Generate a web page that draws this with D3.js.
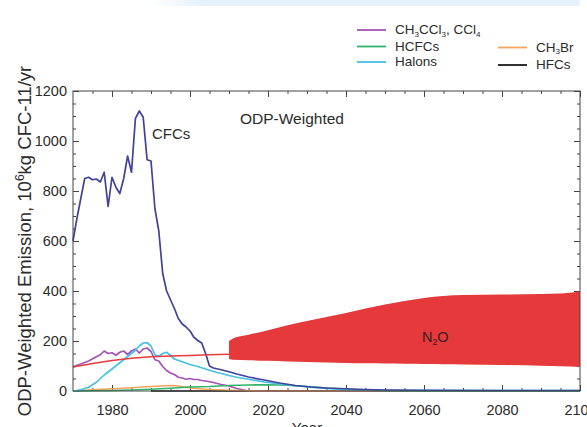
<!DOCTYPE html>
<html>
<head>
<meta charset="utf-8">
<script src="https://cdn.jsdelivr.net/npm/d3@7"></script>
<style>
  html, body { margin: 0; padding: 0; background: #fff; }
  svg { display: block; font-family: "Liberation Sans", Arial, Helvetica, sans-serif; }
</style>
</head>
<body>
<div id="chart"></div>
<script>
'use strict';

// ODP-weighted emissions, 10^6 kg CFC-11 per year  [year, value]
var cfcs = [[1970,600],[1971,690],[1972,770],[1973,850],[1974,855],[1975,845],[1976,848],[1977,836],
  [1978,875],[1979,738],[1980,855],[1981,815],[1982,790],[1983,850],[1984,940],[1985,875],[1986,1090],
  [1987,1120],[1988,1095],[1989,925],[1990,920],[1991,730],[1992,640],[1993,470],[1994,400],[1995,365],
  [1996,330],[1997,290],[1998,268],[1999,256],[2000,240],[2001,215],[2002,202],[2003,192],[2004,150],
  [2005,100],[2006,92],[2008,85],[2010,77],[2012,68],[2015,56],[2019,44],[2023,32],[2027,22],[2031,16],
  [2035,12],[2040,9],[2045,6],[2050,4],[2060,3],[2080,2],[2100,2]];

var ch3ccl3 = [[1970,97],[1972,108],[1974,120],[1976,137],[1977,145],[1978,160],[1979,150],[1980,153],
  [1981,143],[1982,155],[1983,160],[1984,146],[1985,160],[1986,168],[1987,152],[1988,168],[1989,172],
  [1990,158],[1991,125],[1992,120],[1993,98],[1994,82],[1995,72],[1996,66],[1997,55],[1998,52],[1999,47],
  [2000,50],[2001,46],[2002,46],[2003,42],[2004,40],[2006,34],[2008,26],[2010,20],[2012,10],[2015,0],[2100,0]];

var halons = [[1970,0],[1972,5],[1974,15],[1976,35],[1978,64],[1980,88],[1982,113],[1984,138],[1986,163],
  [1987,180],[1988,192],[1989,193],[1990,180],[1991,145],[1992,138],[1993,150],[1994,155],[1995,142],
  [1996,128],[1998,117],[2000,106],[2002,98],[2004,88],[2006,78],[2008,70],[2010,62],[2012,55],[2015,47],
  [2019,36],[2023,28],[2027,21],[2031,15],[2035,10],[2040,5],[2050,3],[2060,2],[2100,2]];

var hcfcs = [[1970,0],[1980,2],[1985,4],[1990,7],[1995,11],[2000,16],[2005,18],[2010,22],[2015,24],
  [2020,25],[2025,23],[2030,18],[2035,12],[2040,7],[2045,3],[2050,1],[2060,0],[2100,0]];

var ch3br = [[1970,0],[1975,5],[1980,9],[1985,13],[1990,18],[1995,22],[1997,20],[2000,12],[2005,6],
  [2010,3],[2015,1],[2020,0],[2100,0]];

var hfcs = [[1990,0],[2100,0]];

var n2oLine = [[1970,96],[1975,110],[1980,122],[1985,131],[1990,137],[1995,140],[2000,142],[2005,145],[2010,147]];

// N2O projection range [year, low, high]
var n2oBand = [[2010,128,200],[2011,125,210],[2015,123,225],[2020,121,243],[2025,118,263],[2030,116,280],
  [2035,114,296],[2040,112,312],[2045,111,330],[2050,110,346],[2055,109,360],[2060,108,372],[2065,107,380],
  [2070,106,384],[2080,104,386],[2090,101,388],[2095,99,390],[2100,96,398]];

var xMajor = [1980, 2000, 2020, 2040, 2060, 2080, 2100];
var yMajor = [0, 200, 400, 600, 800, 1000, 1200];

var myApp = {};

myApp.margins = { top: 91, left: 73, right: 7, bottom: 36 };
myApp.width = 587;
myApp.height = 427;

// text with _x subscripts and ^x superscripts
myApp.richText = function(sel, str, size)
{
    var parts = str.match(/[_^].|[^_^]+/g);
    var shift = 0;
    parts.forEach(function(p) {
        var t = sel.append('tspan');
        var target = 0;
        if (p[0] === '_') { target = size * 0.2; p = p.slice(1); t.attr('font-size', size * 0.6); }
        else if (p[0] === '^') { target = -size * 0.4; p = p.slice(1); t.attr('font-size', size * 0.65); }
        t.attr('dy', target - shift).text(p);
        shift = target;
    });
}

myApp.run = function()
{
    var m = myApp.margins;
    var w = myApp.width - m.left - m.right;
    var h = myApp.height - m.top - m.bottom;

    var svg = d3.select('#chart').append('svg')
        .attr('width', myApp.width)
        .attr('height', myApp.height);

    // faint banner at the very top of the page
    var grad = svg.append('defs').append('linearGradient').attr('id', 'banner');
    grad.append('stop').attr('offset', '0').attr('stop-color', '#e6f2fb').attr('stop-opacity', 0);
    grad.append('stop').attr('offset', '0.12').attr('stop-color', '#e6f2fb').attr('stop-opacity', 1);
    grad.append('stop').attr('offset', '1').attr('stop-color', '#e6f2fb').attr('stop-opacity', 1);
    svg.append('rect')
        .attr('x', 150).attr('y', 0).attr('width', 430).attr('height', 6)
        .attr('fill', 'url(#banner)');

    var g = svg.append('g').attr('transform', 'translate(' + m.left + ',' + m.top + ')');

    var x = d3.scaleLinear().domain([1970, 2100]).range([0, w]);
    var y = d3.scaleLinear().domain([0, 1200]).range([h, 0]);

    var xMinor = d3.range(1975, 2100, 5).filter(function(d) { return xMajor.indexOf(d) < 0; });
    var yMinor = d3.range(50, 1200, 50).filter(function(d) { return yMajor.indexOf(d) < 0; });

    var fontSize = 14.5;

    // bottom axis with labels
    g.append('g').attr('transform', 'translate(0,' + h + ')')
        .call(d3.axisBottom(x).tickValues(xMajor).tickFormat(d3.format('d')).tickSize(-6).tickPadding(14));
    g.append('g').attr('transform', 'translate(0,' + h + ')')
        .call(d3.axisBottom(x).tickValues(xMinor).tickFormat('').tickSize(-3));
    g.append('g').call(d3.axisTop(x).tickValues(xMajor).tickFormat('').tickSize(-6));
    g.append('g').call(d3.axisTop(x).tickValues(xMinor).tickFormat('').tickSize(-3));

    g.append('g')
        .call(d3.axisLeft(y).tickValues(yMajor).tickFormat(d3.format('d')).tickSize(-6).tickPadding(6));
    g.append('g').call(d3.axisLeft(y).tickValues(yMinor).tickFormat('').tickSize(-3));
    g.append('g').attr('transform', 'translate(' + w + ',0)')
        .call(d3.axisRight(y).tickValues(yMajor).tickFormat('').tickSize(-6));
    g.append('g').attr('transform', 'translate(' + w + ',0)')
        .call(d3.axisRight(y).tickValues(yMinor).tickFormat('').tickSize(-3));

    g.selectAll('.domain').remove();
    g.selectAll('.tick line').attr('stroke', '#444');
    g.selectAll('.tick text').attr('fill', '#2b2b2b')
        .attr('font-size', fontSize)
        .attr('font-family', '"Liberation Sans", Arial, sans-serif');

    // N2O band
    g.append('path')
        .datum(n2oBand)
        .attr('fill', '#e5393b')
        .attr('d', d3.area()
            .x(function(d) { return x(d[0]); })
            .y0(function(d) { return y(d[1]); })
            .y1(function(d) { return y(d[2]); })
            .curve(d3.curveMonotoneX));

    var line = d3.line()
        .x(function(d) { return x(d[0]); })
        .y(function(d) { return y(d[1]); });

    var series = [
        { data: hfcs, color: '#1a1a1a' },
        { data: ch3ccl3, color: '#a452b6' },
        { data: ch3br, color: '#f3a35c' },
        { data: hcfcs, color: '#2fb36c' },
        { data: halons, color: '#43c2e4' },
        { data: cfcs, color: '#40429b' },
        { data: n2oLine, color: '#e63c3e' }
    ];

    series.forEach(function(s) {
        g.append('path')
            .datum(s.data)
            .attr('fill', 'none')
            .attr('stroke', s.color)
            .attr('stroke-width', 1.7)
            .attr('stroke-linejoin', 'round')
            .attr('d', line);
    });

    // frame
    g.append('rect')
        .attr('width', w).attr('height', h)
        .attr('fill', 'none')
        .attr('stroke', '#444')
        .attr('stroke-width', 1);

    // in-plot labels
    g.append('text').attr('x', 79).attr('y', 48).attr('font-size', 15).attr('fill', '#2b2b2b').text('CFCs');
    g.append('text').attr('x', 167).attr('y', 33).attr('font-size', 15.5).attr('fill', '#2b2b2b').text('ODP-Weighted');
    myApp.richText(
        g.append('text').attr('x', 349).attr('y', 251).attr('font-size', 14.5).attr('fill', '#3a2020'),
        'N_2O', 14.5);

    // axis titles
    myApp.richText(
        svg.append('text')
            .attr('transform', 'translate(31,' + 241 + ') rotate(-90)')
            .attr('text-anchor', 'middle')
            .attr('font-size', 18.5)
            .attr('fill', '#2b2b2b'),
        'ODP-Weighted Emission, 10^6kg CFC-11/yr', 18.5);

    svg.append('text')
        .attr('x', 307).attr('y', 433)
        .attr('text-anchor', 'middle')
        .attr('font-size', 15)
        .attr('fill', '#2b2b2b')
        .text('Year');

    // legend
    var legend = [
        { label: 'CH_3CCl_3, CCl_4', color: '#a452b6', x: 357, y: 30 },
        { label: 'HCFCs', color: '#2fb36c', x: 357, y: 46.5 },
        { label: 'Halons', color: '#43c2e4', x: 357, y: 62 },
        { label: 'CH_3Br', color: '#f3a35c', x: 498, y: 47.5 },
        { label: 'HFCs', color: '#1a1a1a', x: 498, y: 65 }
    ];

    legend.forEach(function(d) {
        svg.append('line')
            .attr('x1', d.x).attr('x2', d.x + 29)
            .attr('y1', d.y).attr('y2', d.y)
            .attr('stroke', d.color)
            .attr('stroke-width', 1.8);
        myApp.richText(
            svg.append('text')
                .attr('x', d.x + 38).attr('y', d.y + 4)
                .attr('font-size', 13.5)
                .attr('fill', '#2b2b2b'),
            d.label, 13.5);
    });
}

window.onload = function() {
    myApp.run();
};
</script>
</body>
</html>
